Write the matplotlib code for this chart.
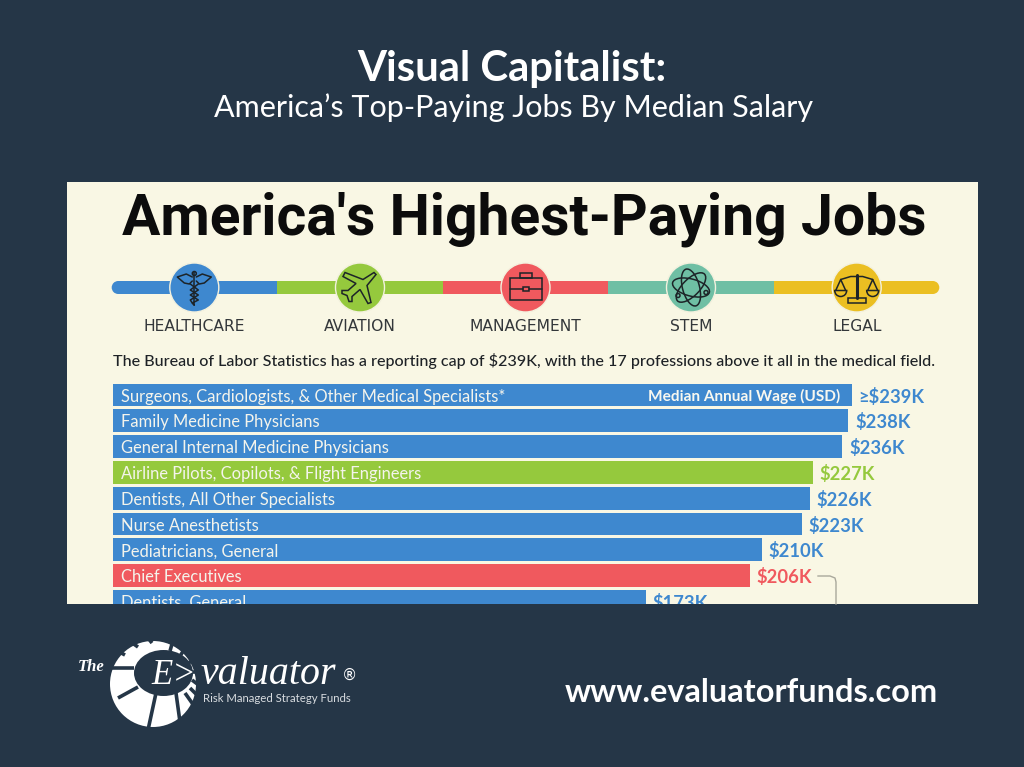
"""America's highest-paying jobs slide, rebuilt from the reference picture."""

import matplotlib
matplotlib.use("Agg")
import matplotlib.pyplot as plt
from matplotlib.patches import Circle, Rectangle, Wedge, Polygon, Ellipse

W, H = 1024, 767

# data
jobs = [
    "Surgeons, Cardiologists, & Other Medical Specialists*",
    "Family Medicine Physicians",
    "General Internal Medicine Physicians",
    "Airline Pilots, Copilots, & Flight Engineers",
    "Dentists, All Other Specialists",
    "Nurse Anesthetists",
    "Pediatricians, General",
    "Chief Executives",
    "Dentists, General",
]
wages = [239, 238, 236, 226.5, 225.5, 223, 210, 206, 172.5]
wage_labels = ["≥$239K", "$238K", "$236K", "$227K", "$226K", "$223K", "$210K", "$206K", "$173K"]
sectors = ["health", "health", "health", "air", "health", "health", "health", "mgmt", "health"]

categories = ["HEALTHCARE", "AVIATION", "MANAGEMENT", "STEM", "LEGAL"]
category_keys = ["health", "air", "mgmt", "stem", "legal"]

BG = "#253647"
CARD = "#F9F7E4"
INK = "#1D2428"
COLORS = {"health": "#3E88CF", "air": "#95C93D", "mgmt": "#F0595E",
          "stem": "#6FBFA4", "legal": "#EBBF22"}

BODY = ["Lato", "DejaVu Sans"]

fig = plt.figure(figsize=(W / 100, H / 100), dpi=100, facecolor=BG)

# full-figure axes in pixels for the slide furniture
bg = fig.add_axes([0, 0, 1, 1])
bg.set_xlim(0, W)
bg.set_ylim(H, 0)
bg.axis("off")

bg.text(512, 69, "Visual Capitalist:", color="white", ha="center", va="center",
        fontsize=30.2, fontweight="bold", family="Lato")
bg.text(514, 108, "America’s Top-Paying Jobs By Median Salary", color="white", ha="center",
        va="center", fontsize=22, family="Lato")

bg.add_patch(Rectangle((66.5, 182), 911.5, 422, fc=CARD, ec="none", zorder=1))
bg.text(524, 219, "America's Highest-Paying Jobs", color="#0C0C0C", ha="center", va="center",
        fontsize=41, fontweight="bold", family="Roboto", zorder=3)

# timeline
stops = [111.7, 276.7, 442.7, 608, 774, 939.3]
centers = [194.3, 360, 525.5, 691, 856.7]
ty = 287.5
for i, key in enumerate(category_keys):
    x0, x1 = stops[i], stops[i + 1]
    if i == 0:
        bg.add_patch(Circle((x0 + 6.5, ty), 6.5, fc=COLORS[key], ec="none", zorder=2))
        x0 += 6.5
    if i == 4:
        bg.add_patch(Circle((x1 - 6.5, ty), 6.5, fc=COLORS[key], ec="none", zorder=2))
        x1 -= 6.5
    bg.add_patch(Rectangle((x0, ty - 6.5), x1 - x0, 13, fc=COLORS[key], ec="none", zorder=2))
    bg.add_patch(Circle((centers[i], ty), 24.5, fc=COLORS[key], ec="#F3F1DE", lw=1, zorder=3))
    bg.text(centers[i], 326.5, categories[i], color="#33373A", ha="center", va="center",
            fontsize=11.2, family="DejaVu Sans", zorder=3)

# icons, thin line work
LW = 1.1


def line(xs, ys, lw=LW):
    bg.plot(xs, ys, color=INK, lw=lw, zorder=4, solid_capstyle="round", solid_joinstyle="round")


# caduceus
cx = centers[0]
line([cx, cx], [272, 305])
bg.add_patch(Circle((cx, 273.5), 2, fc="none", ec=INK, lw=LW, zorder=4))
line([cx - 2, cx - 8, cx - 17, cx - 10, cx - 5, cx - 2], [277, 274, 277, 283, 284, 281])
line([cx + 2, cx + 8, cx + 17, cx + 10, cx + 5, cx + 2], [277, 274, 277, 283, 284, 281])
line([cx - 4, cx + 4, cx - 4, cx + 4, cx - 2, cx], [284, 290, 295, 300, 303, 305])
line([cx + 4, cx - 4, cx + 4, cx - 4, cx - 2, cx], [284, 290, 295, 300, 303, 305])

# plane
cx = centers[1]
bg.add_patch(Polygon([(cx + 14, ty - 15), (cx + 16, ty - 13), (cx + 7, ty - 2), (cx + 11, ty + 15),
                      (cx + 8, ty + 16), (cx + 0, ty + 2), (cx - 8, ty + 9), (cx - 8, ty + 14),
                      (cx - 11, ty + 14), (cx - 13, ty + 8), (cx - 18, ty + 6), (cx - 18, ty + 3),
                      (cx - 12, ty + 3), (cx - 4, ty - 4), (cx - 17, ty - 11), (cx - 15, ty - 15),
                      (cx + 3, ty - 8)],
                     closed=True, fc="none", ec=INK, lw=LW, zorder=4))

# briefcase
cx = centers[2]
bg.add_patch(Rectangle((cx - 16, ty - 10), 32, 22, fc="none", ec=INK, lw=LW, zorder=4))
bg.add_patch(Rectangle((cx - 6, ty - 15), 12, 5, fc="none", ec=INK, lw=LW, zorder=4))
line([cx - 16, cx - 3], [ty + 1, ty + 1])
line([cx + 3, cx + 16], [ty + 1, ty + 1])
bg.add_patch(Rectangle((cx - 3, ty - 1), 6, 4, fc="none", ec=INK, lw=LW, zorder=4))

# atom
cx = centers[3]
for ang in (15, 75, 135):
    bg.add_patch(Ellipse((cx, ty), 38, 17, angle=ang, fc="none", ec=INK, lw=LW, zorder=4))
bg.add_patch(Circle((cx - 13, ty + 8), 2, fc="none", ec=INK, lw=LW, zorder=4))
bg.add_patch(Circle((cx + 15, ty + 5), 2, fc="none", ec=INK, lw=LW, zorder=4))

# scales (y axis of bg is flipped, so the pans open upward at 0..180)
cx = centers[4]
line([cx, cx], [ty - 13, ty + 10], lw=LW * 2)
line([cx - 16, cx - 6, cx + 6, cx + 16], [ty - 8, ty - 11, ty - 11, ty - 8])
line([cx - 21, cx - 16, cx - 11], [ty + 3, ty - 8, ty + 3])
line([cx + 21, cx + 16, cx + 11], [ty + 3, ty - 8, ty + 3])
for sx in (cx - 16, cx + 16):
    bg.add_patch(Wedge((sx, ty + 3), 6, 0, 180, fc="none", ec=INK, lw=LW, zorder=4))
bg.add_patch(Rectangle((cx - 9, ty + 10), 18, 5, fc="none", ec=INK, lw=LW, zorder=4))

bg.text(113, 361, "The Bureau of Labor Statistics has a reporting cap of $239K, with the 17 professions "
        "above it all in the medical field.", color="#1E2226", ha="left", va="center",
        fontsize=11.6, family=BODY, fontweight="medium", zorder=3)

# bar chart: one axes in USD thousands, clipped at the bottom edge of the card
ax = fig.add_axes([113 / W, 1 - 604 / H, (978 - 113) / W, (604 - 383.5) / H])
ax.patch.set_alpha(0)
ax.set_xlim(0, (978 - 113) / 3.09)
ax.set_ylim(8.1, -0.445)
ax.axis("off")
ypos = list(range(len(jobs)))
ax.barh(ypos, wages, height=0.89, color=[COLORS[s] for s in sectors], edgecolor="none", align="center")
for y, job, wage, lab, sec in zip(ypos, jobs, wages, wage_labels, sectors):
    ax.text(2.5, y + 0.06, job, color="#F4F4EC", ha="left", va="center", fontsize=11.9,
            family=BODY, clip_on=True)
    ax.text(wage + 2.2, y + 0.06, lab, color=COLORS[sec], ha="left", va="center", fontsize=13.2,
            fontweight="bold", family=BODY, clip_on=True)
ax.text(235.3, 0.04, "Median Annual Wage (USD)", color="#F8F8F0", ha="right", va="center", fontsize=11.1,
        fontweight="bold", family=BODY)

# bracket next to Chief Executives
bg.plot([818, 830, 835, 836, 836], [576, 576, 578, 582, 604], color="#A9A89C", lw=1, zorder=4)

# footer
bg.text(565, 692, "www.evaluatorfunds.com", color="white", ha="left", va="center", fontsize=23.4,
        fontweight="bold", family="Lato")

# logo: white disc cut by radial gaps and an off-centre dark hole
bg.add_patch(Circle((153, 684), 43, fc="white", ec="none", zorder=2))
gaps = [((134, 668), (105, 668)), ((125, 655), (112, 648)), ((138, 647), (128, 640)),
        ((152, 643), (148, 638)), ((118, 698), (138, 687)), ((148, 730), (156, 693)),
        ((180, 722), (176, 693)), ((197, 710), (185, 693)), ((200, 698), (190, 688)),
        ((200, 686), (192, 680)), ((198, 672), (190, 672)), ((193, 660), (187, 664)),
        ((184, 650), (180, 656)), ((172, 644), (170, 651))]
for (x0, y0), (x1, y1) in gaps:
    bg.plot([x0, x1], [y0, y1], color=BG, lw=2.6, zorder=2.2, solid_capstyle="butt")
bg.add_patch(Ellipse((163.5, 673), 59, 46, fc=BG, ec="none", zorder=2.5))

bg.text(78, 667, "The", color="white", fontsize=12, style="italic", family="Liberation Serif",
        fontweight="bold", ha="left", va="center")
bg.text(151, 675, "E>", color="white", fontsize=25, style="italic", family="Liberation Serif",
        ha="left", va="center", zorder=3)
bg.text(200, 674, "valuator", color="white", fontsize=28.7, style="italic", family="Liberation Serif",
        ha="left", va="center", zorder=3)
bg.text(349, 675, "®", color="white", fontsize=11, family="DejaVu Sans", ha="center", va="center")
bg.text(203, 698, "Risk Managed Strategy Funds", color="#D8DCE0", fontsize=8.2, family="Lato",
        ha="left", va="center", zorder=3)

fig.savefig("out.png", dpi=100, facecolor=BG)
